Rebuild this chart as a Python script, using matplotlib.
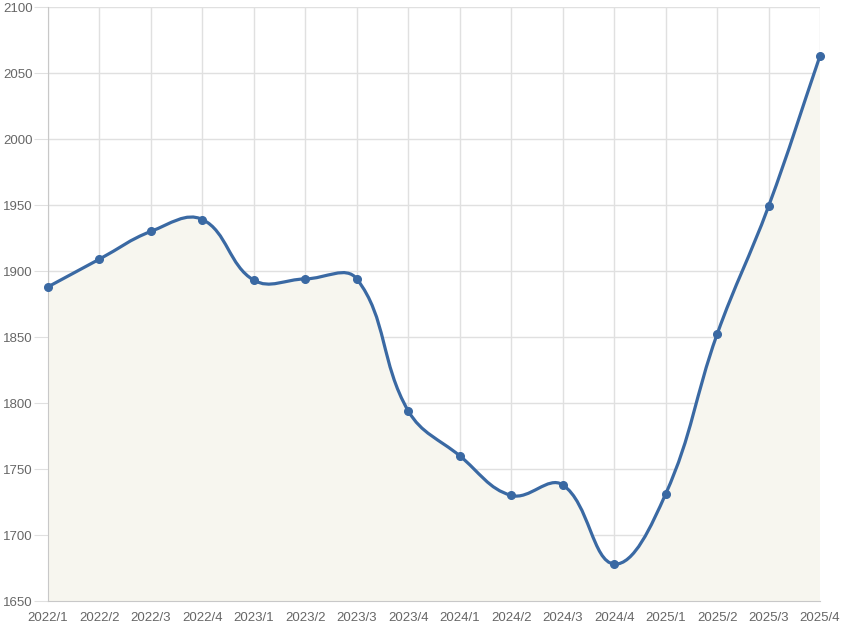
import numpy as np
import matplotlib
matplotlib.use('Agg')
import matplotlib.pyplot as plt
from matplotlib.path import Path
from matplotlib.patches import PathPatch

# quarterly values
quarters = ['2022/1', '2022/2', '2022/3', '2022/4',
            '2023/1', '2023/2', '2023/3', '2023/4',
            '2024/1', '2024/2', '2024/3', '2024/4',
            '2025/1', '2025/2', '2025/3', '2025/4']
values = [1888, 1909, 1930, 1939,
          1893, 1894, 1894, 1794,
          1760, 1730, 1738, 1678,
          1731, 1852, 1949, 2063]
y_ticks = [1650, 1700, 1750, 1800, 1850, 1900, 1950, 2000, 2050, 2100]

line_color = '#3a69a3'
fill_color = '#f7f6ef'
grid_color = '#e0e0e0'
text_color = '#666666'

plt.rcParams['font.family'] = ['Liberation Sans', 'DejaVu Sans']

fig = plt.figure(figsize=(8.43, 6.32), dpi=100)
ax = fig.add_axes([48 / 843, 1 - 601 / 632, (820 - 48) / 843, (601 - 7) / 632])

x = np.arange(len(quarters))
ax.set_xlim(0, len(quarters) - 1)
ax.set_ylim(y_ticks[0], y_ticks[-1])

# smooth curve like a tension 0.4 spline, control points in pixel space
pts = ax.transData.transform(np.column_stack([x, values]))
tension = 0.4
n = len(pts)
verts = [pts[0]]
codes = [Path.MOVETO]
ctrl_prev = []
ctrl_next = []
for i in range(n):
    p0 = pts[max(i - 1, 0)]
    p1 = pts[i]
    p2 = pts[min(i + 1, n - 1)]
    d01 = np.hypot(*(p1 - p0))
    d12 = np.hypot(*(p2 - p1))
    tot = d01 + d12
    s01 = d01 / tot if tot else 0
    s12 = d12 / tot if tot else 0
    ctrl_prev.append(p1 - tension * s01 * (p2 - p0))
    ctrl_next.append(p1 + tension * s12 * (p2 - p0))
for i in range(1, n):
    verts += [ctrl_next[i - 1], ctrl_prev[i], pts[i]]
    codes += [Path.CURVE4] * 3
verts = ax.transData.inverted().transform(np.array(verts))

curve = Path(verts, codes)
fill_verts = np.vstack([verts, [[x[-1], y_ticks[0]], [x[0], y_ticks[0]], verts[0]]])
fill_codes = list(codes) + [Path.LINETO, Path.LINETO, Path.CLOSEPOLY]
ax.add_patch(PathPatch(Path(fill_verts, fill_codes), facecolor=fill_color,
                       edgecolor='none', zorder=1))
ax.add_patch(PathPatch(curve, facecolor='none', edgecolor=line_color,
                       linewidth=2.3, zorder=3, capstyle='round', joinstyle='round'))
ax.plot(x, values, 'o', color=line_color, markersize=5.5, zorder=4, clip_on=False)

ax.set_xticks(x)
ax.set_xticklabels(quarters)
ax.set_yticks(y_ticks)
ax.grid(True, color=grid_color, linewidth=1, zorder=0)
ax.set_axisbelow(True)
for side in ['top', 'right']:
    ax.spines[side].set_visible(False)
for side in ['left', 'bottom']:
    ax.spines[side].set_color('#c8c8c8')
ax.tick_params(axis='y', length=10, color=grid_color, labelsize=9.5, labelcolor=text_color, pad=1)
ax.tick_params(axis='x', length=0, labelsize=9.5, labelcolor=text_color, pad=8)

fig.savefig('out.png', dpi=100)
